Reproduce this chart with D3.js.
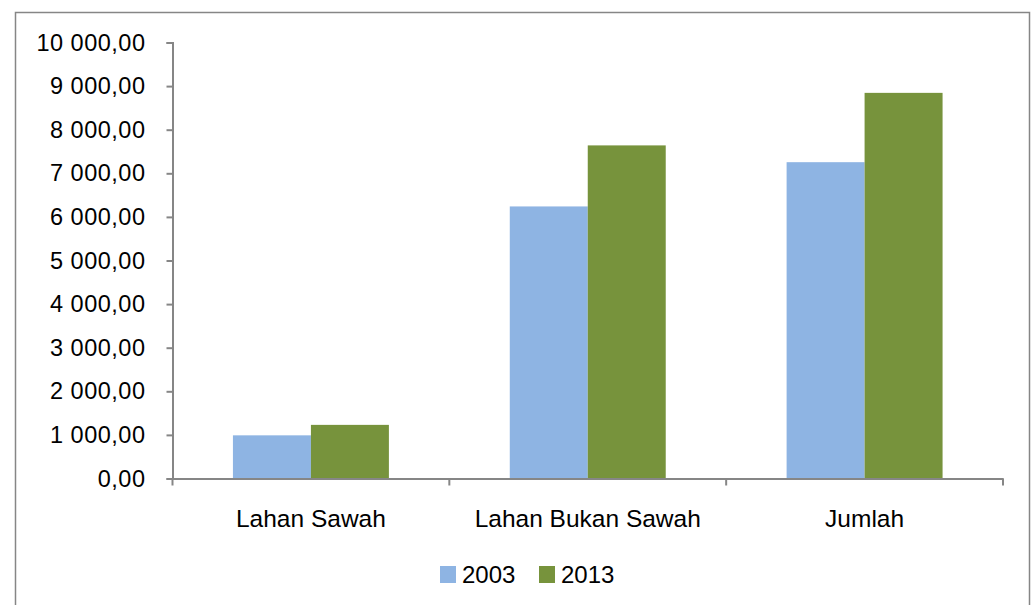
<!DOCTYPE html>
<html>
<head>
<meta charset="utf-8">
<script src="https://cdn.jsdelivr.net/npm/d3@7"></script>
<style>
  html, body { margin: 0; padding: 0; background: #fff; }
  svg { display: block; }
  text { font-family: "Liberation Sans", Arial, sans-serif; fill: #000; }
</style>
</head>
<body>
<svg id="chart" width="1035" height="605"></svg>
<script>
// Land area by category, 2003 vs 2013
const categories = ["Lahan Sawah", "Lahan Bukan Sawah", "Jumlah"];
const years = ["2003", "2013"];
const values2003 = [990, 6240, 7255];
const values2013 = [1230, 7640, 8845];
const yTicks = [0, 1000, 2000, 3000, 4000, 5000, 6000, 7000, 8000, 9000, 10000];
const colors = ["#8eb4e3", "#77933c"];

const svg = d3.select("#chart");
const FONT = "Liberation Sans, Arial, sans-serif";

// chart area frame
svg.append("rect")
  .attr("x", 15.5).attr("y", 12.5)
  .attr("width", 1014).attr("height", 610)
  .attr("fill", "#fff").attr("stroke", "#868686").attr("stroke-width", 1.5);

const plot = { left: 172.5, right: 1003, top: 42.5, bottom: 478.5 };

const x = d3.scaleBand()
  .domain(categories)
  .range([plot.left, plot.right])
  .paddingInner(0).paddingOuter(0);

const inner = d3.scaleBand()
  .domain(years)
  .range([0, x.bandwidth()])
  .paddingInner(0)
  .paddingOuter(0.775);

const y = d3.scaleLinear().domain([0, 10000]).range([plot.bottom, plot.top]);

const fmt = v => {
  const s = d3.format(",.2f")(v);
  return s.replace(/,/g, " ").replace(".", ",");
};

// bars
const series = [values2003, values2013];
series.forEach((vals, si) => {
  svg.append("g").selectAll("rect")
    .data(categories.map((c, i) => ({ c, v: vals[i] })))
    .join("rect")
    .attr("x", d => x(d.c) + inner(years[si]))
    .attr("y", d => y(d.v))
    .attr("width", inner.bandwidth())
    .attr("height", d => y(0) - y(d.v))
    .attr("fill", colors[si]);
});

// y axis
const yAxis = d3.axisLeft(y).tickValues(yTicks).tickFormat(fmt).tickSize(6).tickPadding(21);
const gy = svg.append("g").attr("transform", `translate(${plot.left},0)`).call(yAxis);
gy.attr("font-size", null).attr("font-family", null);
gy.select(".domain").attr("stroke", "#868686").attr("stroke-width", 2);
gy.selectAll(".tick line").attr("stroke", "#868686").attr("stroke-width", 2);
gy.selectAll(".tick text")
  .style("font-size", "23.5px")
  .style("letter-spacing", "0.5px")
  .style("font-family", FONT)
  .attr("fill", "#000");

// x axis
const xAxis = d3.axisBottom(x).tickSize(0).tickPadding(31);
const gx = svg.append("g").attr("transform", `translate(0,${plot.bottom})`).call(xAxis);
gx.attr("font-size", null).attr("font-family", null);
gx.select(".domain").attr("stroke", "#868686").attr("stroke-width", 2);
gx.selectAll(".tick text")
  .style("font-size", "24.5px")
  .style("font-family", FONT)
  .attr("fill", "#000");
// category boundary ticks
const bounds = categories.map(c => x(c)).concat([plot.right]);
svg.append("g").selectAll("line")
  .data(bounds)
  .join("line")
  .attr("x1", d => d).attr("x2", d => d)
  .attr("y1", plot.bottom).attr("y2", plot.bottom + 7)
  .attr("stroke", "#868686").attr("stroke-width", 2);

// legend
const legend = svg.append("g");
const legendItems = [{ label: "2003", x: 440 }, { label: "2013", x: 539 }];
legendItems.forEach((it, i) => {
  legend.append("rect")
    .attr("x", it.x).attr("y", 566)
    .attr("width", 16).attr("height", 17)
    .attr("fill", colors[i]);
  legend.append("text")
    .attr("x", it.x + 22).attr("y", 583)
    .style("font-size", "24px")
    .style("font-family", FONT)
    .text(it.label);
});
</script>
</body>
</html>
